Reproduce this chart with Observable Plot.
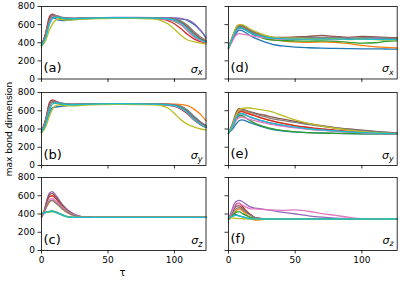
<!DOCTYPE html>
<html><head><meta charset="utf-8">
<script src="https://cdn.jsdelivr.net/npm/d3@7"></script>
<script src="https://cdn.jsdelivr.net/npm/@observablehq/plot@0.6"></script>
<style>
html,body{margin:0;padding:0;background:#fff;}
#wrap{position:relative;width:407px;height:285px;overflow:hidden;font-family:"DejaVu Sans";}
#wrap svg{position:absolute;overflow:visible;}
</style></head><body><div id="wrap"></div>
<script>
// matplotlib tab10 order: blue, orange, green, red, purple, brown, pink, gray, olive, cyan
const colors = ["#1f77b4","#ff7f0e","#2ca02c","#d62728","#9467bd","#8c564b","#e377c2","#7f7f7f","#bcbd22","#17becf"];
const xTicks = [0, 50, 100];
const yTicks = [0, 200, 400, 600, 800];

// (a) sigma_x, left column
const tauA = [0, 3, 6, 8, 10, 13, 16, 20, 25, 30, 40, 55, 70, 85, 90, 95, 100, 105, 110, 115, 120, 123.75];
const valsA = [
  [370,470,620,680,670,650,645,650,655,660,668,675,676,674,673,672,670,662,645,600,530,460],
  [365,490,660,700,690,670,665,665,665,670,672,676,675,672,670,668,660,630,585,510,445,420],
  [370,480,650,700,695,675,665,660,665,670,673,676,674,670,666,655,635,595,535,465,425,410],
  [375,500,690,715,705,690,670,665,665,670,674,677,674,668,660,645,610,555,490,440,410,400],
  [370,480,660,705,700,685,675,670,670,675,676,680,680,678,677,676,674,668,652,610,530,450],
  [370,490,670,710,700,685,675,670,670,675,676,678,677,673,670,666,655,625,570,500,440,420],
  [365,470,630,690,700,690,675,670,668,672,674,677,676,670,665,655,640,600,530,460,420,400],
  [370,480,650,700,700,690,680,675,670,672,675,678,677,674,672,668,662,640,590,520,460,430],
  [360,420,540,600,640,660,655,650,655,660,665,670,668,660,645,610,550,480,430,410,395,385],
  [365,450,600,660,680,680,670,665,665,670,672,676,675,671,668,662,650,615,555,480,430,410]
];

// (b) sigma_y, left column
const tauB = [0, 3, 6, 8, 10, 13, 16, 20, 25, 30, 40, 55, 70, 85, 90, 95, 100, 105, 110, 115, 120, 123.75];
const valsB = [
  [360,450,580,630,640,645,650,660,665,670,672,676,676,674,672,670,665,645,600,535,470,430],
  [365,470,640,690,690,675,670,668,668,670,673,677,678,677,676,675,672,668,655,615,555,490],
  [370,480,650,700,690,675,668,665,665,668,672,676,675,672,668,662,650,620,570,500,445,415],
  [375,500,690,720,710,690,675,668,666,670,673,677,676,672,668,662,650,618,565,495,445,420],
  [370,480,660,705,700,690,680,674,672,674,676,678,677,675,673,670,664,645,600,530,470,440],
  [370,490,670,710,700,688,678,672,670,672,675,678,677,674,671,667,660,638,590,520,460,430],
  [365,470,640,700,700,690,678,670,668,670,673,677,676,672,668,663,652,625,575,505,450,420],
  [370,480,655,705,700,690,680,674,672,673,676,678,677,675,673,670,665,648,605,535,475,440],
  [355,420,540,610,650,665,660,655,655,660,665,670,668,665,655,630,570,500,450,420,400,390],
  [365,450,610,670,685,680,672,668,666,670,673,677,676,672,669,664,655,628,578,505,450,420]
];

// (c) sigma_z, left column
const tauC = [0, 2, 4, 6, 8, 10, 13, 16, 20, 25, 30, 40, 60, 90, 123.75];
const valsC = [
  [400,410,420,425,430,425,410,390,370,362,362,362,362,362,362],
  [380,420,480,530,550,530,490,450,410,380,365,362,362,362,362],
  [390,410,420,430,435,425,405,385,368,362,362,362,362,362,362],
  [370,430,530,590,600,580,530,480,430,390,370,362,362,362,362],
  [360,430,550,630,645,620,560,500,440,395,372,362,362,362,362],
  [365,430,540,610,625,600,545,490,435,392,370,362,362,362,362],
  [370,420,500,555,570,550,510,470,425,388,368,362,362,362,362],
  [375,420,490,540,550,530,495,455,415,382,366,362,362,362,362],
  [420,415,418,420,425,420,405,385,368,362,362,362,362,362,362],
  [410,415,420,425,428,420,405,385,366,362,362,362,362,362,362]
];

// (d) sigma_x, right column
const tauD = [0, 3, 6, 8, 10, 13, 16, 20, 25, 30, 35, 40, 50, 60, 70, 80, 90, 100, 110, 118, 126.5];
const valsD = [
  [340,430,510,540,535,510,480,450,420,395,375,365,352,345,340,338,335,333,332,331,330],
  [345,450,550,575,575,550,520,490,460,440,430,420,410,405,410,405,390,370,355,348,344],
  [340,450,550,570,565,540,510,480,455,435,428,425,420,418,420,415,405,395,400,415,420],
  [345,460,560,585,580,560,530,500,475,455,450,445,440,445,450,440,445,440,445,440,445],
  [340,440,530,555,555,540,515,490,470,455,450,445,445,440,445,450,440,445,450,445,440],
  [345,470,570,590,590,570,540,515,490,470,460,460,465,470,480,470,460,470,465,460,455],
  [335,420,490,500,495,490,480,470,460,450,445,440,440,438,440,435,440,438,440,436,438],
  [345,460,560,580,580,560,535,505,480,460,455,450,455,460,455,460,450,455,460,450,448],
  [340,460,580,600,600,580,555,525,495,470,455,450,450,445,440,445,435,440,435,430,430],
  [340,450,545,565,560,540,515,490,470,455,448,445,440,440,442,440,438,440,438,436,435]
];

// (e) sigma_y, right column
const tauE = [0, 3, 6, 8, 10, 13, 16, 20, 25, 30, 40, 50, 60, 70, 80, 90, 100, 110, 126.5];
const valsE = [
  [355,400,460,490,500,490,470,450,425,405,380,368,360,356,353,350,348,347,345],
  [355,430,540,590,600,590,570,545,520,500,465,435,412,395,382,372,362,355,347],
  [355,420,510,545,545,520,495,462,435,412,385,368,360,355,352,350,348,347,345],
  [355,440,550,585,590,575,560,545,520,498,465,438,418,400,388,376,365,357,348],
  [355,430,520,560,565,550,530,510,488,468,440,418,400,388,378,368,360,354,347],
  [355,460,590,625,620,605,590,575,558,542,510,482,458,436,415,400,388,375,358],
  [355,420,500,525,530,520,505,490,472,456,432,412,396,385,375,366,358,352,346],
  [355,450,575,610,610,600,585,565,543,522,495,472,448,428,410,395,382,370,355],
  [355,440,560,610,625,630,630,620,610,598,550,500,462,432,408,388,372,360,347],
  [355,430,530,565,570,555,535,515,492,472,445,420,402,390,379,369,361,354,346]
];

// (f) sigma_z, right column
const tauF = [0, 2, 4, 6, 8, 10, 13, 16, 20, 25, 30, 40, 50, 55, 60, 70, 80, 90, 100, 126.5];
const valsF = [
  [360,395,400,390,380,370,358,350,346,345,345,345,345,345,345,345,345,345,345,345],
  [340,360,400,440,455,440,400,360,332,338,345,345,345,345,345,345,345,345,345,345],
  [345,370,400,420,425,410,385,365,350,346,345,345,345,345,345,345,345,345,345,345],
  [345,390,460,510,520,490,440,400,360,348,345,345,345,345,345,345,345,345,345,345],
  [350,420,500,540,550,540,510,480,465,455,445,420,400,390,380,365,355,350,346,345],
  [345,390,450,485,490,470,430,395,360,348,345,345,345,345,345,345,345,345,345,345],
  [345,400,470,510,515,500,475,460,455,450,445,440,445,440,430,405,385,365,350,345],
  [345,380,430,460,470,455,420,390,360,348,345,345,345,345,345,345,345,345,345,345],
  [365,360,355,352,350,348,346,345,345,345,345,345,345,345,345,345,345,345,345,345],
  [355,370,380,385,380,370,358,350,346,345,345,345,345,345,345,345,345,345,345,345]
];

const panelLabels = ["(a)", "(b)", "(c)", "(d)", "(e)", "(f)"];
const panelSubs = ["x", "y", "z", "x", "y", "z"];
const yLabel = "max bond dimension";
const xLabel = "τ";

const panels = [
  {tau: tauA, vals: valsA, col: 0, row: 0},
  {tau: tauB, vals: valsB, col: 0, row: 1},
  {tau: tauC, vals: valsC, col: 0, row: 2},
  {tau: tauD, vals: valsD, col: 1, row: 0},
  {tau: tauE, vals: valsE, col: 1, row: 1},
  {tau: tauF, vals: valsF, col: 1, row: 2}
];

const colX = [[40.5, 205], [228.3, 397]];
const rowY = [[6, 78.5], [91.5, 164.5], [177, 250]];
const xMax = [123.75, 126.5];
const wrap = document.getElementById("wrap");

panels.forEach((p, k) => {
  const [x0, x1] = colX[p.col], [y0, y1] = rowY[p.row];
  const mL = 35, mR = 5, mT = 5, mB = 30;
  const w = x1 - x0, h = y1 - y0;
  const chart = Plot.plot({
    width: w + mL + mR, height: h + mT + mB,
    marginLeft: mL, marginRight: mR, marginTop: mT, marginBottom: mB,
    x: {domain: [0, xMax[p.col]]},
    y: {domain: [0, 800]},
    style: {background: "transparent", fontFamily: "DejaVu Sans", fontSize: "9px", color: "black", overflow: "visible"},
    marks: [
      ...p.vals.map((v, i) => Plot.line(p.tau.map((t, j) => ({t, v: v[j]})),
        {x: "t", y: "v", stroke: colors[i], strokeWidth: 1.3, curve: "monotone-x"})),
      Plot.axisX({ticks: xTicks, tickSize: 3.5, tickPadding: 3, strokeWidth: 0.8,
        tickFormat: p.row === 2 ? d => String(d) : () => "", label: null}),
      Plot.axisY({ticks: yTicks, tickSize: 3.5, tickPadding: 3, strokeWidth: 0.8,
        tickFormat: p.col === 0 ? d => String(d) : () => "", label: null}),
      Plot.frame({stroke: "black", strokeWidth: 0.8})
    ]
  });
  chart.style.left = (x0 - mL) + "px";
  chart.style.top = (y0 - mT) + "px";
  const s = d3.select(chart);
  s.append("text").attr("x", mL + 2.5).attr("y", mT + h - 6.5).attr("text-anchor", "start")
    .attr("font-size", 13).attr("fill", "black").text(panelLabels[k]);
  const t = s.append("text").attr("x", mL + w - 3).attr("y", mT + h - 6)
    .attr("text-anchor", "end").attr("fill", "black").attr("font-style", "italic");
  t.append("tspan").attr("font-size", 11).text("σ");
  t.append("tspan").attr("font-size", 8).attr("dy", 2.5).text(panelSubs[k]);
  wrap.appendChild(chart);
});

const ov = d3.select(wrap).append("svg").attr("width", 407).attr("height", 285)
  .style("left", "0px").style("top", "0px").style("pointer-events", "none");
ov.append("text").attr("transform", "translate(11.5,129) rotate(-90)")
  .attr("text-anchor", "middle").attr("font-size", 9).attr("font-family", "DejaVu Sans").text(yLabel);
ov.append("text").attr("x", 122.5).attr("y", 276)
  .attr("text-anchor", "middle").attr("font-size", 10).attr("font-family", "DejaVu Sans").text(xLabel);
</script></body></html>
